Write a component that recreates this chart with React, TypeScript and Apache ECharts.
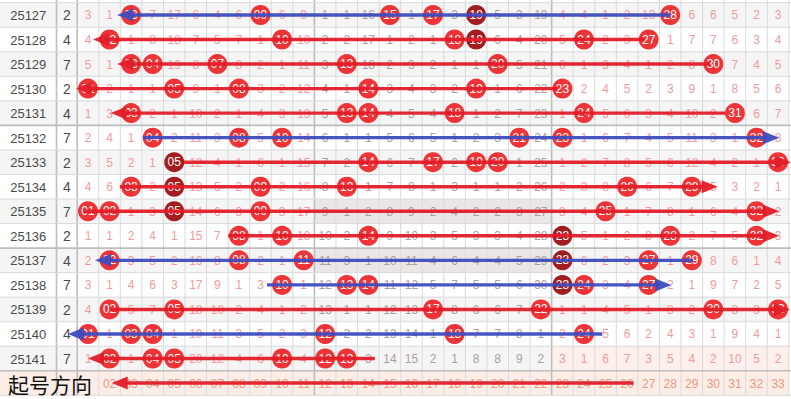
import React, { useEffect, useRef } from "react";
import * as echarts from "echarts";

// ---------- data ----------
const issues = ["25127", "25128", "25129", "25130", "25131", "25132", "25133", "25134", "25135", "25136", "25137", "25138", "25139", "25140", "25141"];
const tailDigits = [2, 4, 7, 2, 4, 7, 2, 4, 7, 2, 4, 7, 2, 4, 7];
// omission counts for numbers 01..33 per issue; 0 = drawn (ball)
const omission: number[][] = [
  [3, 1, 0, 7, 17, 6, 4, 6, 0, 6, 9, 1, 1, 16, 0, 1, 0, 3, 0, 5, 3, 19, 4, 4, 1, 2, 13, 0, 6, 6, 5, 2, 3],
  [4, 0, 1, 8, 18, 7, 5, 7, 1, 0, 10, 2, 2, 17, 1, 2, 1, 0, 0, 6, 4, 20, 5, 0, 2, 3, 0, 1, 7, 7, 6, 3, 4],
  [5, 1, 0, 0, 19, 8, 0, 8, 2, 1, 11, 3, 0, 18, 2, 3, 2, 1, 1, 0, 5, 21, 6, 1, 3, 4, 1, 2, 8, 0, 7, 4, 5],
  [0, 2, 1, 1, 0, 9, 1, 0, 3, 2, 12, 4, 1, 0, 3, 4, 3, 2, 0, 1, 6, 22, 0, 2, 4, 5, 2, 3, 9, 1, 8, 5, 6],
  [1, 3, 0, 2, 1, 10, 2, 1, 4, 3, 13, 5, 0, 0, 4, 5, 4, 0, 1, 2, 7, 23, 1, 0, 5, 6, 3, 4, 10, 2, 0, 6, 7],
  [2, 4, 1, 0, 2, 11, 3, 0, 5, 0, 14, 6, 1, 1, 5, 6, 5, 1, 2, 3, 0, 24, 0, 1, 6, 7, 4, 5, 11, 3, 1, 0, 8],
  [3, 5, 2, 1, 0, 12, 4, 1, 6, 1, 15, 7, 2, 0, 6, 7, 0, 2, 0, 0, 1, 25, 1, 2, 7, 8, 5, 6, 12, 4, 2, 1, 0],
  [4, 6, 0, 2, 0, 13, 5, 2, 0, 2, 16, 8, 0, 1, 7, 8, 1, 3, 1, 1, 2, 26, 2, 3, 8, 0, 6, 7, 0, 5, 3, 2, 1],
  [0, 0, 1, 3, 0, 14, 6, 3, 0, 3, 17, 9, 1, 2, 8, 9, 2, 4, 2, 2, 3, 27, 3, 4, 0, 1, 7, 8, 1, 6, 4, 0, 2],
  [1, 1, 2, 4, 1, 15, 7, 0, 1, 0, 18, 10, 2, 0, 9, 10, 3, 5, 3, 3, 4, 28, 0, 5, 1, 2, 8, 0, 2, 7, 5, 0, 3],
  [2, 0, 3, 5, 2, 16, 8, 0, 2, 1, 0, 11, 3, 1, 10, 11, 4, 6, 4, 4, 5, 29, 0, 6, 2, 3, 0, 1, 0, 8, 6, 1, 4],
  [3, 1, 4, 6, 3, 17, 9, 1, 3, 0, 1, 12, 0, 0, 11, 12, 5, 7, 5, 5, 6, 30, 0, 0, 3, 4, 0, 2, 1, 9, 7, 2, 5],
  [4, 0, 5, 7, 0, 18, 10, 2, 4, 1, 2, 13, 1, 1, 12, 13, 0, 8, 6, 6, 7, 0, 1, 1, 4, 5, 1, 3, 2, 0, 8, 3, 0],
  [0, 1, 0, 0, 1, 19, 11, 3, 5, 2, 3, 0, 2, 2, 13, 14, 1, 0, 7, 7, 8, 1, 2, 0, 5, 6, 2, 4, 3, 1, 9, 4, 1],
  [1, 0, 1, 0, 0, 20, 12, 4, 6, 0, 4, 0, 0, 3, 14, 15, 2, 1, 8, 8, 9, 2, 3, 1, 6, 7, 3, 5, 4, 2, 10, 5, 2],
];
// [issue row index, number] drawn in dark red
const darkBalls: number[][] = [[0, 19], [1, 19], [6, 5], [7, 5], [8, 5], [9, 23], [10, 23], [11, 23]];
const footerLabels = ["01", "02", "03", "04", "05", "06", "07", "08", "09", "10", "11", "12", "13", "14", "15", "16", "17", "18", "19", "20", "21", "22", "23", "24", "25", "26", "27", "28", "29", "30", "31", "32", "33"];
const footerTitle = "起号方向";
// direction arrows: row, start (number position), arrow tip (number position), colour kind
const arrowRows = [0, 1, 2, 3, 4, 5, 6, 7, 8, 9, 10, 11, 12, 13, 14, 15];
const arrowFrom = [28, 26.8, 29.85, 22.75, 30.55, 3.55, 5.45, 2.48, 0.8, 7.5, 29.06, 9.3, 2, 24.85, 14.3, 26.3];
const arrowTo = [2.35, 1.23, 2.35, 0.44, 2.05, 33.05, 33.6, 30.2, 33.05, 33.05, 1.33, 28.05, 33.55, 0.07, 1, 2.1];
const arrowKind = ["blue", "red", "red", "red", "red", "blue", "red", "red", "red", "red", "blue", "blue", "red", "blue", "red", "red"];
// shaded zone blocks: [row, fromNumber, toNumber]
const greyBlocks: number[][] = [[8, 12, 22], [10, 12, 22]];
const pinkBlocks: number[][] = [[14, 23, 33]];

// ---------- layout constants ----------
const X_MIN = -3.08;
const X_MAX = 33.6;
const Y_MIN = -0.61;
const Y_MAX = 15.65;
const ISSUE_RIGHT = -0.46;
const ISSUE_CENTER = (X_MIN + ISSUE_RIGHT) / 2;
const TAIL_CENTER = 0.02;
const FONT = "Arial, 'Liberation Sans', sans-serif";
const FOOTER_ROW = 15;
const TITLE_COVERS = 1; // footer numbers hidden under the title

export default function App() {
  const ref = useRef<HTMLDivElement>(null);

  useEffect(() => {
    const chart = echarts.init(ref.current!, null, { renderer: "svg" });

    // backgrounds
    type Rect = { x0: number; x1: number; row: number; fill: string };
    const rects: Rect[] = [];
    for (let r = 0; r < issues.length; r++) {
      if (r % 2 === 0) rects.push({ x0: X_MIN, x1: 33.5, row: r, fill: "#f5f5f5" });
    }
    greyBlocks.forEach(([r, a, b]) => rects.push({ x0: a - 0.5, x1: b + 0.5, row: r, fill: "#ebe6e6" }));
    pinkBlocks.forEach(([r, a, b]) => rects.push({ x0: a - 0.5, x1: b + 0.5, row: r, fill: "#fdefec" }));
    rects.push({ x0: X_MIN, x1: 33.5, row: FOOTER_ROW, fill: "#fdede7" });

    // grid lines
    type GL = { v: boolean; pos: number; thick: boolean };
    const gls: GL[] = [];
    const thickV = [ISSUE_RIGHT, 0.5, 11.5, 22.5];
    const vPos = [ISSUE_RIGHT];
    for (let k = 0; k <= 33; k++) vPos.push(k + 0.5);
    vPos.forEach((p) => gls.push({ v: true, pos: p, thick: thickV.includes(p) }));
    const thickH = [4.5, 9.5, 14.5];
    for (let r = -1; r <= FOOTER_ROW; r++) gls.push({ v: false, pos: r + 0.5, thick: thickH.includes(r + 0.5) });

    // texts
    type T = { x: number; y: number; text: string; color: string; size: number };
    const texts: T[] = [];
    issues.forEach((iss, r) => {
      texts.push({ x: ISSUE_CENTER, y: r, text: iss, color: "#4a4a4a", size: 13 });
      texts.push({ x: TAIL_CENTER, y: r, text: String(tailDigits[r]), color: "#4a4a4a", size: 14 });
      omission[r].forEach((v, c) => {
        const n = c + 1;
        if (v > 0) {
          const mid = n >= 12 && n <= 22;
          texts.push({ x: n, y: r, text: String(v), color: mid ? "#ad9d9d" : "#f19c9c", size: 12 });
        }
      });
    });
    footerLabels.forEach((lab, c) => {
      if (c + 1 > TITLE_COVERS) texts.push({ x: c + 1, y: FOOTER_ROW, text: lab, color: "#ea9a80", size: 12 });
    });

    // balls
    const balls: any[] = [];
    omission.forEach((row, r) => {
      row.forEach((v, c) => {
        if (v === 0) {
          const n = c + 1;
          const dark = darkBalls.some(([dr, dn]) => dr === r && dn === n);
          balls.push({
            value: [n, r],
            name: n < 10 ? "0" + n : String(n),
            itemStyle: { color: dark ? "#a31d20" : "#ee3436", opacity: 1 },
          });
        }
      });
    });

    const arrowColor: Record<string, string> = { red: "#e21c28", blue: "#3d4cbf" };

    const option: any = {
      animation: false,
      grid: { left: 0, right: 0, top: 0, bottom: 0 },
      xAxis: { type: "value", min: X_MIN, max: X_MAX, show: false },
      yAxis: { type: "value", min: Y_MIN, max: Y_MAX, inverse: true, show: false },
      series: [
        {
          type: "custom",
          silent: true,
          z: 1,
          data: rects.map((d) => [d.x0, d.row]),
          renderItem: (params: any, api: any) => {
            const d = rects[params.dataIndex];
            const p0 = api.coord([d.x0, d.row - 0.5]);
            const p1 = api.coord([d.x1, d.row + 0.5]);
            return {
              type: "rect",
              shape: { x: p0[0], y: p0[1], width: p1[0] - p0[0], height: p1[1] - p0[1] },
              style: { fill: d.fill },
            };
          },
        },
        {
          type: "custom",
          silent: true,
          z: 2,
          data: gls.map((g) => [g.pos, 0]),
          renderItem: (params: any, api: any) => {
            const g = gls[params.dataIndex];
            const stroke = g.thick ? "#bdbdbd" : "#dadada";
            const lw = g.thick ? 1.6 : 1;
            if (g.v) {
              const a = api.coord([g.pos, Y_MIN]);
              const b = api.coord([g.pos, FOOTER_ROW + 0.5]);
              return { type: "line", shape: { x1: a[0], y1: a[1], x2: b[0], y2: b[1] }, style: { stroke, lineWidth: lw } };
            }
            const a = api.coord([X_MIN, g.pos]);
            const b = api.coord([X_MAX, g.pos]);
            return { type: "line", shape: { x1: a[0], y1: a[1], x2: b[0], y2: b[1] }, style: { stroke, lineWidth: lw } };
          },
        },
        {
          type: "custom",
          silent: true,
          z: 3,
          data: texts.map((t) => [t.x, t.y]),
          renderItem: (params: any, api: any) => {
            const t = texts[params.dataIndex];
            const p = api.coord([t.x, t.y]);
            return {
              type: "text",
              x: p[0],
              y: p[1] + 0.5,
              style: {
                text: t.text,
                fill: t.color,
                fontSize: t.size,
                fontFamily: FONT,
                align: "center",
                verticalAlign: "middle",
              },
            };
          },
        },
        {
          type: "scatter",
          silent: true,
          z: 4,
          symbol: "circle",
          symbolSize: 20,
          itemStyle: { opacity: 1 },
          data: balls,
          label: {
            show: true,
            position: "inside",
            formatter: "{b}",
            color: "#ffffff",
            fontSize: 12,
            fontFamily: FONT,
          },
        },
        {
          type: "custom",
          silent: true,
          z: 5,
          data: arrowRows.map((r, i) => [arrowFrom[i], r]),
          renderItem: (params: any, api: any) => {
            const i = params.dataIndex;
            const r = arrowRows[i];
            const a = api.coord([arrowFrom[i], r]);
            const b = api.coord([arrowTo[i], r]);
            const dir = b[0] > a[0] ? 1 : -1;
            const head = 16;
            const hw = 6.5;
            const col = arrowColor[arrowKind[i]];
            const y = a[1];
            return {
              type: "group",
              children: [
                {
                  type: "line",
                  shape: { x1: a[0], y1: y, x2: b[0] - dir * head * 0.8, y2: y },
                  style: { stroke: col, lineWidth: 3.4, opacity: 0.95 },
                },
                {
                  type: "polygon",
                  shape: { points: [[b[0], y], [b[0] - dir * head, y - hw], [b[0] - dir * head, y + hw]] },
                  style: { fill: col, opacity: 0.95 },
                },
              ],
            };
          },
        },
        {
          type: "custom",
          silent: true,
          z: 6,
          data: [[X_MIN, FOOTER_ROW]],
          renderItem: (params: any, api: any) => {
            const p = api.coord([X_MIN, FOOTER_ROW]);
            return {
              type: "text",
              x: p[0] + 8,
              y: p[1] + 1,
              style: {
                text: footerTitle,
                fill: "#111111",
                fontSize: 21,
                fontFamily: "'Noto Sans CJK SC', sans-serif",
                align: "left",
                verticalAlign: "middle",
              },
            };
          },
        },
      ],
    };

    chart.setOption(option);
    return () => chart.dispose();
  }, []);

  return (
    <div
      ref={ref}
      style={{ position: "fixed", left: 0, top: 0, width: 791, height: 399, background: "#ffffff" }}
    />
  );
}
